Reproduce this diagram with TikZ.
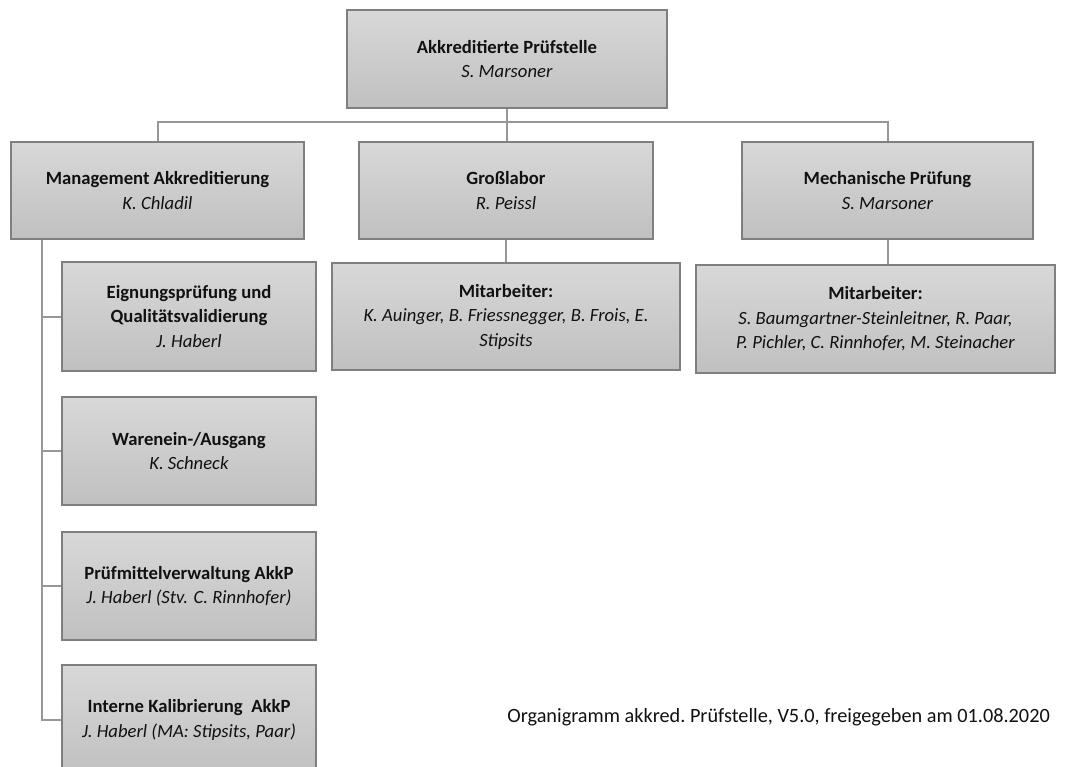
\documentclass[tikz,border=0pt]{standalone}
\usepackage{fontspec}
\setmainfont{Carlito}
\usetikzlibrary{shadings}
\definecolor{boxtop}{HTML}{D8D8D8}
\definecolor{boxbot}{HTML}{C0C0C0}
\definecolor{boxedge}{HTML}{7F7F7F}
\definecolor{linegray}{HTML}{979797}
\definecolor{txt}{HTML}{111111}
\tikzset{
  orgbox/.style={draw=boxedge, line width=1.1pt, top color=boxtop, bottom color=boxbot,
    align=center, inner sep=2pt, text=txt, font=\fontsize{14}{18.4}\selectfont},
  conn/.style={draw=linegray, line width=1.5pt},
}
\begin{document}
\begin{tikzpicture}[x=0.75pt,y=-0.75pt]
\useasboundingbox[fill=white] (0,0) rectangle (1067,767);
% top
\node[orgbox, minimum width=320*0.75pt, minimum height=98*0.75pt] (top) at (507,59)
  {\textbf{Akkreditierte Prüfstelle}\\\textit{S. Marsoner}};
% level 2
\node[orgbox, minimum width=293*0.75pt, minimum height=97*0.75pt] (mgmt) at (157.5,190.5)
  {\textbf{Management Akkreditierung}\\\textit{K. Chladil}};
\node[orgbox, minimum width=294*0.75pt, minimum height=97*0.75pt] (gross) at (506,190.5)
  {\textbf{Großlabor}\\\textit{R. Peissl}};
\node[orgbox, minimum width=291*0.75pt, minimum height=97*0.75pt] (mech) at (887.5,190.5)
  {\textbf{Mechanische Prüfung}\\\textit{S. Marsoner}};
% Mitarbeiter
\node[orgbox, minimum width=348*0.75pt, minimum height=107*0.75pt] (mitG) at (506,316.5)
  {\textbf{Mitarbeiter:}\\\textit{K. Auinger, B. Friessnegger, B. Frois, E.}\\\textit{Stipsits}};
\node[orgbox, minimum width=359*0.75pt, minimum height=108*0.75pt] (mitM) at (875.5,319)
  {\textbf{Mitarbeiter:}\\\textit{S. Baumgartner-Steinleitner, R. Paar,}\\\textit{P. Pichler, C. Rinnhofer, M. Steinacher}};
% left children
\node[orgbox, minimum width=254*0.75pt, minimum height=109*0.75pt] (c1) at (189,316.5)
  {\textbf{Eignungsprüfung und}\\\textbf{Qualitätsvalidierung}\\\textit{J. Haberl}};
\node[orgbox, minimum width=254*0.75pt, minimum height=108*0.75pt] (c2) at (189,451)
  {\textbf{Warenein-/Ausgang}\\\textit{K. Schneck}};
\node[orgbox, minimum width=254*0.75pt, minimum height=108*0.75pt] (c3) at (189,586)
  {\textbf{Prüfmittelverwaltung AkkP}\\\textit{J. Haberl (Stv. C. Rinnhofer)}};
\node[orgbox, minimum width=254*0.75pt, minimum height=110*0.75pt] (c4) at (189,720)
  {\textbf{Interne Kalibrierung\ \ AkkP}\\\textit{J. Haberl (MA: Stipsits, Paar)}};
% connectors
\coordinate (bus) at (507,122);
\coordinate (spine) at (42,239);
\draw[conn] (top.south) -- (top.south |- bus);
\draw[conn] (mgmt.north) |- (bus) -| (mech.north);
\draw[conn] (top.south |- bus) -- (top.south |- gross.north);
\draw[conn] (gross.south) -- (gross.south |- mitG.north);
\draw[conn] (mech.south) -- (mech.south |- mitM.north);
\draw[conn] (mgmt.south -| spine) -- (c4.west -| spine) -- (c4.west);
\draw[conn] (c1.west -| spine) -- (c1.west);
\draw[conn] (c2.west -| spine) -- (c2.west);
\draw[conn] (c3.west -| spine) -- (c3.west);
% footnote
\node[anchor=east, inner sep=0pt, text=txt, font=\fontsize{15.2}{18}\selectfont] (foot) at (1050,717)
  {Organigramm akkred.\ Prüfstelle, V5.0, freigegeben am 01.08.2020};
\end{tikzpicture}
\end{document}
